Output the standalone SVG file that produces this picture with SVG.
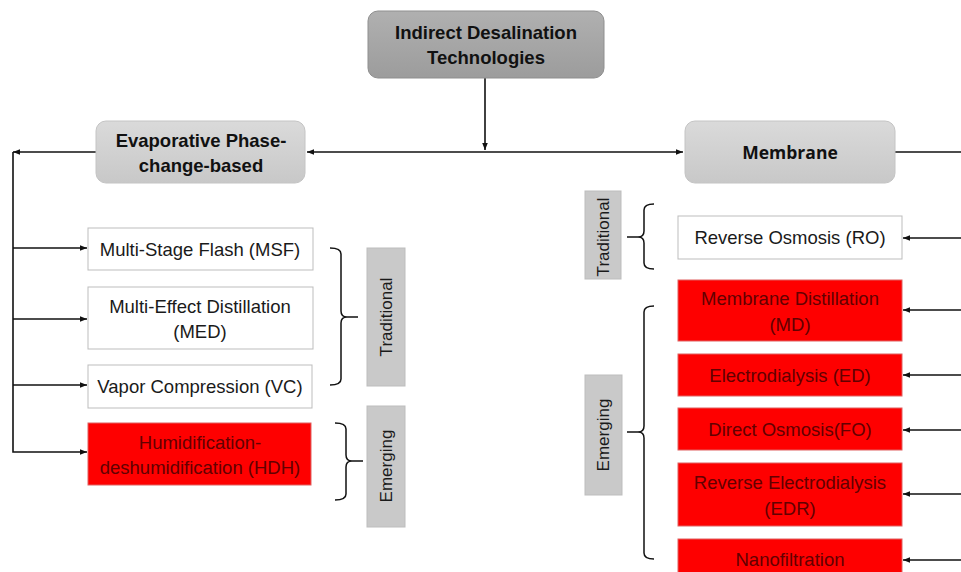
<svg xmlns="http://www.w3.org/2000/svg" width="961" height="572" viewBox="0 0 961 572">
<style>
text{font-family:"Liberation Sans",Arial,sans-serif;text-anchor:middle}
.hd{font-weight:bold;font-size:18.5px;fill:#111}
.it{font-size:18.5px;fill:#1a1a1a}
.rt{font-size:18.5px;fill:#620000}
.lb{font-size:17px;fill:#1a1a1a}
.wb{fill:#fff;stroke:#bdbdbd;stroke-width:1}
.rb{fill:#fe0000;stroke:#e06060;stroke-width:1}
.gb{fill:#c9c9c9;stroke:#bdbdbd;stroke-width:1}
.cn{fill:none;stroke:#111;stroke-width:1.6}
.br{fill:none;stroke:#111;stroke-width:1.5}
</style>
<defs>
<marker id="ah" viewBox="0 0 10 10" refX="10" refY="5" markerWidth="7" markerHeight="7" markerUnits="userSpaceOnUse" orient="auto">
<path d="M0,1 L10,5 L0,9 z" fill="#111"/>
</marker>
<linearGradient id="g1" x1="0" y1="0" x2="0" y2="1"><stop offset="0" stop-color="#b0b0b0"/><stop offset="1" stop-color="#9c9c9c"/></linearGradient>
<linearGradient id="g2" x1="0" y1="0" x2="0" y2="1"><stop offset="0" stop-color="#dadada"/><stop offset="1" stop-color="#c8c8c8"/></linearGradient>
</defs>

<g id="connectors">
<path class="cn" d="M485,78 V150" marker-end="url(#ah)"/>
<path class="cn" d="M485,152 H683" marker-end="url(#ah)"/>
<path class="cn" d="M485,152 H307" marker-end="url(#ah)"/>
<path class="cn" d="M96,152 H13" marker-end="url(#ah)"/>
<path class="cn" d="M13,152 V452 H87" marker-end="url(#ah)"/>
<path class="cn" d="M13,248 H87" marker-end="url(#ah)"/>
<path class="cn" d="M13,319 H87" marker-end="url(#ah)"/>
<path class="cn" d="M13,385 H87" marker-end="url(#ah)"/>
<path class="cn" d="M895,152 H961"/>
<path class="cn" d="M961,238 H903" marker-end="url(#ah)"/>
<path class="cn" d="M961,310 H903" marker-end="url(#ah)"/>
<path class="cn" d="M961,375 H903" marker-end="url(#ah)"/>
<path class="cn" d="M961,430 H903" marker-end="url(#ah)"/>
<path class="cn" d="M961,494 H903" marker-end="url(#ah)"/>
<path class="cn" d="M961,560 H903" marker-end="url(#ah)"/>
<path class="br" d="M330,248 Q341,248 341,254 V311 Q341,317 347,317 H358 M347,317 Q341,317 341,323 V379 Q341,385 330,385"/>
<path class="br" d="M335,423 Q346,423 346,429 V455 Q346,461 352,461 H363 M352,461 Q346,461 346,467 V494 Q346,500 335,500"/>
<path class="br" d="M654,204 Q644,204 644,210 V231 Q644,237 638,237 H627 M638,237 Q644,237 644,243 V263 Q644,269 654,269"/>
<path class="br" d="M654,306 Q644,306 644,312 V426 Q644,432 638,432 H627 M638,432 Q644,432 644,438 V553 Q644,559 654,559"/>
</g>

<g id="root">
<rect x="368" y="11" width="236" height="67" rx="10" fill="url(#g1)" stroke="#8f8f8f"/>
<text class="hd" x="486" y="39">Indirect Desalination</text>
<text class="hd" x="486" y="64">Technologies</text>
</g>

<g id="evaporative">
<rect x="96" y="121" width="209" height="62" rx="10" fill="url(#g2)" stroke="#c4c4c4"/>
<text class="hd" x="201" y="147">Evaporative Phase-</text>
<text class="hd" x="201" y="172">change-based</text>
</g>

<g id="membrane">
<rect x="685" y="121" width="210" height="62" rx="10" fill="url(#g2)" stroke="#c4c4c4"/>
<text class="hd" x="790" y="159" style="font-family:'Open Sans','Liberation Sans',sans-serif;font-size:17.5px">Membrane</text>
</g>

<g id="msf">
<rect class="wb" x="88" y="228" width="225" height="42"/>
<text class="it" x="200" y="256">Multi-Stage Flash (MSF)</text>
</g>
<g id="med">
<rect class="wb" x="88" y="287" width="225" height="62"/>
<text class="it" x="200" y="313">Multi-Effect Distillation</text>
<text class="it" x="200" y="338">(MED)</text>
</g>
<g id="vc">
<rect class="wb" x="88" y="365" width="224" height="43"/>
<text class="it" x="200" y="393">Vapor Compression (VC)</text>
</g>
<g id="hdh">
<rect class="rb" x="88" y="423" width="223" height="62"/>
<text class="rt" x="200" y="449">Humidification-</text>
<text class="rt" x="200" y="474">deshumidification (HDH)</text>
</g>

<g id="trad-left">
<rect class="gb" x="367" y="248" width="38" height="138"/>
<text class="lb" transform="translate(392,317) rotate(-90)">Traditional</text>
</g>
<g id="emerg-left">
<rect class="gb" x="367" y="406" width="38" height="121"/>
<text class="lb" transform="translate(392,466) rotate(-90)">Emerging</text>
</g>

<g id="trad-right">
<rect class="gb" x="585" y="191" width="36" height="88"/>
<text class="lb" transform="translate(609,237) rotate(-90)">Traditional</text>
</g>
<g id="emerg-right">
<rect class="gb" x="585" y="375" width="37" height="120"/>
<text class="lb" transform="translate(609,435) rotate(-90)">Emerging</text>
</g>

<g id="ro">
<rect class="wb" x="678" y="216" width="224" height="43"/>
<text class="it" x="790" y="244">Reverse Osmosis (RO)</text>
</g>
<g id="md">
<rect class="rb" x="678" y="280" width="224" height="61"/>
<text class="rt" x="790" y="305">Membrane Distillation</text>
<text class="rt" x="790" y="331">(MD)</text>
</g>
<g id="ed">
<rect class="rb" x="678" y="354" width="224" height="42"/>
<text class="rt" x="790" y="382">Electrodialysis (ED)</text>
</g>
<g id="fo">
<rect class="rb" x="678" y="408" width="224" height="42"/>
<text class="rt" x="790" y="436">Direct Osmosis(FO)</text>
</g>
<g id="edr">
<rect class="rb" x="678" y="463" width="224" height="63"/>
<text class="rt" x="790" y="489">Reverse Electrodialysis</text>
<text class="rt" x="790" y="515">(EDR)</text>
</g>
<g id="nf">
<rect class="rb" x="678" y="539" width="224" height="40"/>
<text class="rt" x="790" y="566">Nanofiltration</text>
</g>
</svg>
